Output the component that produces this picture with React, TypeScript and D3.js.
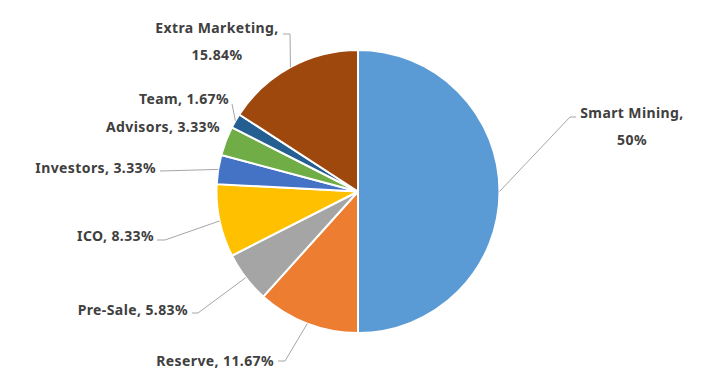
import React from "react";
import * as d3 from "d3";

const categories = ["Smart Mining", "Reserve", "Pre-Sale", "ICO", "Investors", "Advisors", "Team", "Extra Marketing"];
const values = [50, 11.67, 5.83, 8.33, 3.33, 3.33, 1.67, 15.84];
const valueLabels = ["50%", "11.67%", "5.83%", "8.33%", "3.33%", "3.33%", "1.67%", "15.84%"];
const colors = ["#5B9BD5", "#ED7D31", "#A5A5A5", "#FFC000", "#4472C4", "#70AD47", "#255E91", "#9E480E"];

// label layout: [x, y, anchor, twoLines, elbowX, elbowY, endX, showLeader]
const labelLayout: [number, number, string, boolean, number, number, number, boolean][] = [
  [632, 112, "middle", true, 570, 117, 576, true],
  [274, 360, "end", false, 285, 361, 278, true],
  [188, 309, "end", false, 198, 313, 192, true],
  [154, 235, "end", false, 165, 240, 157, true],
  [156, 167, "end", false, 160, 171, 160, true],
  [220, 126, "end", false, 0, 0, 0, false],
  [229, 98, "end", false, 232, 104, 232, true],
  [217, 27, "middle", true, 290, 34, 283, true],
];

const W = 720, H = 392;
const cx = 358, cy = 191.5, R = 141.5;

export default function App() {
  const pie = d3.pie<number>().value((d) => d).sort(null);
  const arcs = pie(values);
  const arcGen = d3.arc<d3.PieArcDatum<number>>().innerRadius(0).outerRadius(R);
  const font = "'Noto Sans', 'Open Sans', sans-serif";
  return (
    <svg width={W} height={H} style={{ position: "absolute", left: 0, top: 0, background: "#fff" }}>
      <g transform={`translate(${cx},${cy})`}>
        {arcs.map((a, i) => (
          <path key={i} d={arcGen(a) || ""} fill={colors[i]} stroke="#fff" strokeWidth={2} strokeLinejoin="round" />
        ))}
      </g>
      {arcs.map((a, i) => {
        const L = labelLayout[i];
        const mid = (a.startAngle + a.endAngle) / 2;
        const px = cx + R * Math.sin(mid);
        const py = cy - R * Math.cos(mid);
        return L[7] ? (
          <polyline key={"l" + i} points={`${px},${py} ${L[4]},${L[5]} ${L[6]},${L[5]}`} fill="none" stroke="#A6A6A6" strokeWidth={1} />
        ) : null;
      })}
      {arcs.map((a, i) => {
        const L = labelLayout[i];
        const common = { fontFamily: font, fontSize: 14, fontWeight: 700, letterSpacing: 0.4, fill: "#404040", textAnchor: L[2] as any, dominantBaseline: "central" as any };
        if (L[3]) {
          return (
            <g key={"t" + i}>
              <text x={L[0]} y={L[1]} {...common}>{categories[i] + ","}</text>
              <text x={L[0]} y={L[1] + 27} {...common}>{valueLabels[i]}</text>
            </g>
          );
        }
        return (
          <text key={"t" + i} x={L[0]} y={L[1]} {...common}>{`${categories[i]}, ${valueLabels[i]}`}</text>
        );
      })}
    </svg>
  );
}
